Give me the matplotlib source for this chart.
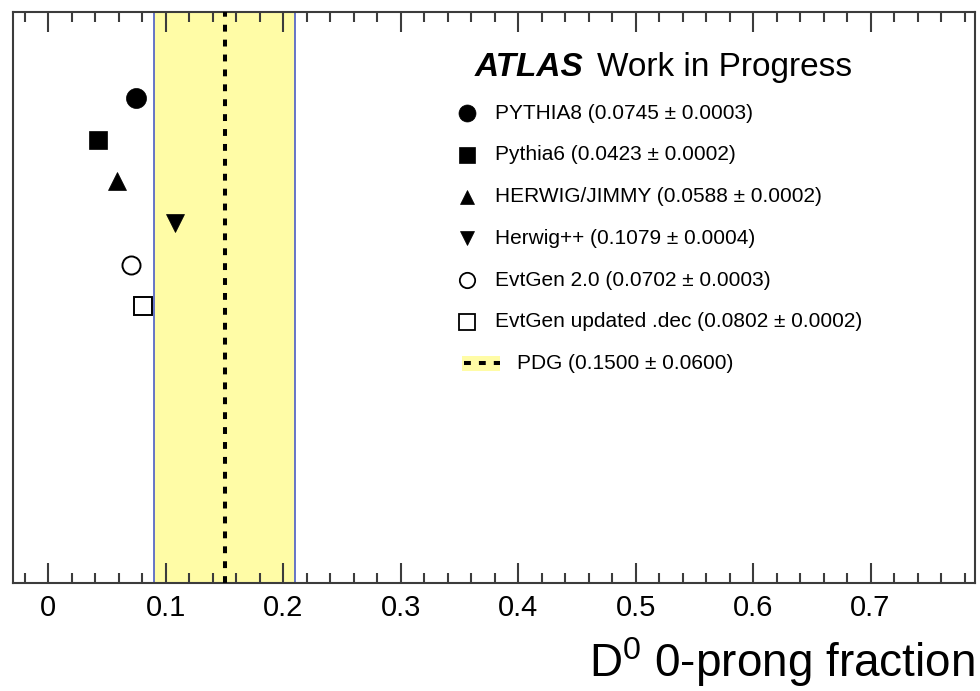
import numpy as np
import matplotlib
matplotlib.use("Agg")
import matplotlib.pyplot as plt
from matplotlib import ticker
from matplotlib.patches import Rectangle
from matplotlib.lines import Line2D

plt.rcParams['font.family'] = ['Liberation Sans', 'DejaVu Sans']
plt.rcParams['mathtext.fontset'] = 'custom'
plt.rcParams['mathtext.rm'] = 'Liberation Sans'

# generator predictions for the D0 0-prong fraction
names = ["PYTHIA8", "Pythia6", "HERWIG/JIMMY", "Herwig++", "EvtGen 2.0", "EvtGen updated .dec"]
values = [0.0745, 0.0423, 0.0588, 0.1079, 0.0702, 0.0802]
errors = [0.0003, 0.0002, 0.0002, 0.0004, 0.0003, 0.0002]
rows = [6, 5, 4, 3, 2, 1]

# PDG reference value
pdg_value = 0.15
pdg_error = 0.06

# marker style per generator: (marker, filled, size)
styles = [('o', True, 14.4), ('s', True, 13.5), ('^', True, 12.5),
          ('v', True, 12.5), ('o', False, 13.0), ('s', False, 13.0)]

band_color = '#fffca6'
edge_color = '#4b5dc4'
frame_color = '#3c3c3c'

fig = plt.figure(figsize=(9.8, 6.91), dpi=100)
ax = fig.add_axes([0.013, 0.1563, 0.982, 0.8263])

# PDG band and central value
ax.axvspan(pdg_value - pdg_error, pdg_value + pdg_error, color=band_color, lw=0, zorder=1)
ax.axvline(pdg_value - pdg_error, color=edge_color, lw=1.2, zorder=2)
ax.axvline(pdg_value + pdg_error, color=edge_color, lw=1.2, zorder=2)
ax.axvline(pdg_value, color='black', lw=2.9, linestyle=(0, (1.7, 2.0)), zorder=3)

# generator points
for v, e, r, (m, filled, ms) in zip(values, errors, rows, styles):
    ax.plot([v], [r], marker=m, ms=ms, linestyle='none', zorder=4,
            mfc='black' if filled else 'white', mec='black',
            mew=0.5 if filled else 1.4)

ax.set_xlim(-0.0303, 0.789)
ax.set_ylim(-5.64, 8.06)

# axes frame and ticks
for side in ['top', 'bottom', 'left', 'right']:
    ax.spines[side].set_color(frame_color)
    ax.spines[side].set_linewidth(1.5)
ax.xaxis.set_major_locator(ticker.MultipleLocator(0.1))
ax.xaxis.set_minor_locator(ticker.MultipleLocator(0.02))
ax.xaxis.set_major_formatter(ticker.StrMethodFormatter('{x:g}'))
ax.tick_params(axis='x', which='both', direction='in', top=True, bottom=True,
               color=frame_color, width=1.5, labelsize=21, pad=8)
ax.tick_params(axis='x', which='major', length=14.4)
ax.tick_params(axis='x', which='minor', length=7.2)
ax.tick_params(axis='y', which='both', left=False, right=False, labelleft=False)

ax.set_xlabel(r'D$^{0}$ 0-prong fraction', fontsize=33, loc='right', labelpad=9)

# header
ax.text(0.480, 0.888, 'ATLAS', transform=ax.transAxes, fontsize=24,
        fontweight='bold', fontstyle='italic', va='baseline', ha='left')
ax.text(0.607, 0.888, 'Work in Progress', transform=ax.transAxes, fontsize=24,
        va='baseline', ha='left')

# legend entries
leg_x, leg_text_x, leg_y0, leg_dy = 0.472, 0.501, 0.8226, 0.073
for i, (n, v, e, (m, filled, ms)) in enumerate(zip(names, values, errors, styles)):
    y = leg_y0 - i * leg_dy
    ax.add_line(Line2D([leg_x], [y], transform=ax.transAxes, marker=m,
                       ms=ms * 0.85, linestyle='none',
                       mfc='black' if filled else 'white', mec='black',
                       mew=0.5 if filled else 1.3))
    ax.text(leg_text_x, y, f"{n} ({v:.4f} \u00b1 {e:.4f})", transform=ax.transAxes,
            fontsize=15, va='center', ha='left')

y = leg_y0 - len(names) * leg_dy
ax.add_patch(Rectangle((0.467, y - 0.0125), 0.039, 0.025, transform=ax.transAxes,
                       facecolor=band_color, edgecolor='none'))
ax.add_line(Line2D([0.469, 0.506], [y, y], transform=ax.transAxes, color='black',
                   lw=2.9, linestyle=(0, (1.7, 2.0))))
ax.text(0.524, y, f"PDG ({pdg_value:.4f} \u00b1 {pdg_error:.4f})", transform=ax.transAxes,
        fontsize=15, va='center', ha='left')

fig.savefig('out.png', dpi=100)
